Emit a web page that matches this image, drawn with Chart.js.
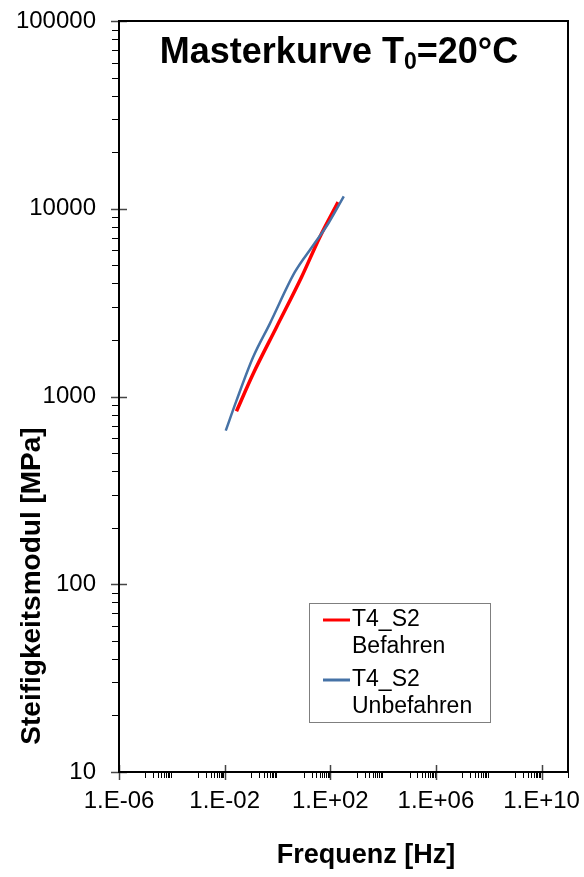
<!DOCTYPE html>
<html>
<head>
<meta charset="utf-8">
<script src="https://cdn.jsdelivr.net/npm/chart.js@4"></script>
<style>
  html, body { margin: 0; padding: 0; background: #fff; }
  #wrap { width: 584px; height: 877px; }
</style>
</head>
<body>
<div id="wrap"><canvas id="c" width="584" height="877"></canvas></div>
<script>
// Master curve data: frequency [Hz] vs. stiffness modulus [MPa]
const seriesNames = [['T4_S2', 'Befahren'], ['T4_S2', 'Unbefahren']];
const seriesColors = ['#FF0000', '#4672A6'];

const befahrenFreq = [0.028, 0.119, 0.916, 8.1, 40, 197];
const befahrenModul = [834, 1318, 2339, 4317, 7058, 10840];

const unbefahrenFreq = [0.011, 0.028, 0.119, 0.51, 4.52, 22.3, 82.6, 324];
const unbefahrenModul = [658, 951, 1618, 2438, 4592, 6368, 8318, 11640];

const xTickValues = [1e-6, 1e-2, 1e2, 1e6, 1e10];
const xTickLabels = ['1.E-06', '1.E-02', '1.E+02', '1.E+06', '1.E+10'];
const yTickValues = [10, 100, 1000, 10000, 100000];
const yTickLabels = ['10', '100', '1000', '10000', '100000'];

const chartTitle = { main: 'Masterkurve T', sub: '0', rest: '=20°C' };
const xTitle = 'Frequenz [Hz]';
const yTitle = 'Steifigkeitsmodul [MPa]';

const FONT = '"Liberation Sans", Arial, sans-serif';

function toPoints(xs, ys) {
  return xs.map((x, i) => ({ x: x, y: ys[i] }));
}

// keep the plot area fixed: labels may extend into the margins
function fixScale(s, size) {
  if (s.isHorizontal()) s.height = size; else s.width = size;
  s.paddingTop = 0;
  s.paddingBottom = 0;
  s.paddingLeft = 0;
  s.paddingRight = 0;
}

// Frame, tick marks, titles and legend
const decorations = {
  id: 'decorations',
  afterDatasetsDraw(chart) {
    const ctx = chart.ctx;
    const a = chart.chartArea;
    const xs = chart.scales.x;
    const ys = chart.scales.y;
    ctx.save();

    // minor ticks on x: two decades per major interval carry 1..9 marks
    ctx.strokeStyle = '#000';
    ctx.lineWidth = 1;
    ctx.beginPath();
    for (const m of xTickValues) {
      for (const d of [10, 1000]) {
        for (let k = 1; k <= 9; k++) {
          const v = m * d * k;
          if (v > xs.max * 1.0001) continue;
          const px = Math.round(xs.getPixelForValue(v)) + 0.5;
          ctx.moveTo(px, a.bottom);
          ctx.lineTo(px, a.bottom + 6);
        }
      }
    }
    // minor ticks on y: 2..9 of every decade
    for (const m of yTickValues) {
      for (let k = 2; k <= 9; k++) {
        const v = m * k;
        if (v > ys.max) continue;
        const py = Math.round(ys.getPixelForValue(v)) + 0.5;
        ctx.moveTo(a.left - 7, py);
        ctx.lineTo(a.left, py);
      }
    }
    ctx.stroke();

    // major ticks crossing the axes
    ctx.strokeStyle = '#444';
    ctx.lineWidth = 1.5;
    ctx.beginPath();
    for (const v of xTickValues) {
      const px = Math.round(xs.getPixelForValue(v)) + 0.5;
      ctx.moveTo(px, a.bottom - 7);
      ctx.lineTo(px, a.bottom + 8);
    }
    for (const v of yTickValues) {
      const py = Math.round(ys.getPixelForValue(v)) + 0.5;
      ctx.moveTo(a.left - 8, py);
      ctx.lineTo(a.left + 8, py);
    }
    ctx.stroke();

    // plot frame
    ctx.strokeStyle = '#000';
    ctx.lineWidth = 2;
    ctx.strokeRect(a.left, a.top, a.right - a.left, a.bottom - a.top);

    // chart title with subscript
    ctx.fillStyle = '#000';
    ctx.textBaseline = 'alphabetic';
    const big = 'bold 36px ' + FONT;
    const small = 'bold 23px ' + FONT;
    ctx.font = big;
    const w1 = ctx.measureText(chartTitle.main).width;
    const w3 = ctx.measureText(chartTitle.rest).width;
    ctx.font = small;
    const w2 = ctx.measureText(chartTitle.sub).width;
    let tx = 339 - (w1 + w2 + w3) / 2;
    const base = 63;
    ctx.font = big;
    ctx.textAlign = 'left';
    ctx.fillText(chartTitle.main, tx, base);
    ctx.font = small;
    ctx.fillText(chartTitle.sub, tx + w1, base + 6);
    ctx.font = big;
    ctx.fillText(chartTitle.rest, tx + w1 + w2, base);

    // axis titles
    ctx.font = 'bold 27px ' + FONT;
    ctx.textAlign = 'center';
    ctx.textBaseline = 'middle';
    ctx.fillText(xTitle, 366, 856);
    ctx.save();
    ctx.translate(32, 586);
    ctx.rotate(-Math.PI / 2);
    ctx.font = 'bold 28px ' + FONT;
    ctx.fillText(yTitle, 0, 0);
    ctx.restore();

    // legend
    const lx = 309.5, ly = 603.5, lw = 181, lh = 119;
    ctx.fillStyle = '#fff';
    ctx.fillRect(lx, ly, lw, lh);
    ctx.strokeStyle = '#7f7f7f';
    ctx.lineWidth = 1;
    ctx.strokeRect(lx, ly, lw, lh);
    ctx.font = '23px ' + FONT;
    ctx.textAlign = 'left';
    ctx.textBaseline = 'middle';
    seriesNames.forEach((lines, i) => {
      const y0 = 620 + i * 60;
      ctx.strokeStyle = seriesColors[i];
      ctx.lineWidth = 3;
      ctx.beginPath();
      ctx.moveTo(323, y0);
      ctx.lineTo(350, y0);
      ctx.stroke();
      ctx.fillStyle = '#000';
      lines.forEach((t, j) => ctx.fillText(t, 352, y0 + j * 27));
    });

    ctx.restore();
  }
};

Chart.defaults.color = '#000';
Chart.defaults.font.family = FONT;

new Chart(document.getElementById('c'), {
  type: 'line',
  data: {
    datasets: [
      {
        label: seriesNames[0].join(' '),
        data: toPoints(befahrenFreq, befahrenModul),
        borderColor: seriesColors[0],
        borderWidth: 3.5,
        pointRadius: 0,
        cubicInterpolationMode: 'monotone',
        fill: false,
        order: 2
      },
      {
        label: seriesNames[1].join(' '),
        data: toPoints(unbefahrenFreq, unbefahrenModul),
        borderColor: seriesColors[1],
        borderWidth: 2.5,
        pointRadius: 0,
        cubicInterpolationMode: 'monotone',
        fill: false,
        order: 1
      }
    ]
  },
  options: {
    responsive: false,
    animation: false,
    devicePixelRatio: 1,
    layout: { padding: { top: 21, right: 16, bottom: 0, left: 0 } },
    plugins: {
      legend: { display: false },
      title: { display: false },
      tooltip: { enabled: false }
    },
    scales: {
      x: {
        type: 'logarithmic',
        min: 1e-6,
        max: 1e11,
        grid: { display: false, drawTicks: false },
        border: { display: false },
        afterBuildTicks: (s) => { s.ticks = xTickValues.map(v => ({ value: v })); },
        afterFit: (s) => fixScale(s, 105),
        ticks: {
          autoSkip: false,
          maxRotation: 0,
          padding: 15,
          font: { size: 24 },
          callback: (v) => {
            const i = xTickValues.findIndex(t => Math.abs(Math.log10(t) - Math.log10(v)) < 1e-6);
            return i >= 0 ? xTickLabels[i] : '';
          }
        }
      },
      y: {
        type: 'logarithmic',
        min: 10,
        max: 100000,
        grid: { display: false, drawTicks: false },
        border: { display: false },
        afterBuildTicks: (s) => { s.ticks = yTickValues.map(v => ({ value: v })); },
        afterFit: (s) => fixScale(s, 119),
        ticks: {
          autoSkip: false,
          padding: 23,
          font: { size: 24 },
          callback: (v) => {
            const i = yTickValues.findIndex(t => Math.abs(Math.log10(t) - Math.log10(v)) < 1e-6);
            return i >= 0 ? yTickLabels[i] : '';
          }
        }
      }
    }
  },
  plugins: [decorations]
});
</script>
</body>
</html>
